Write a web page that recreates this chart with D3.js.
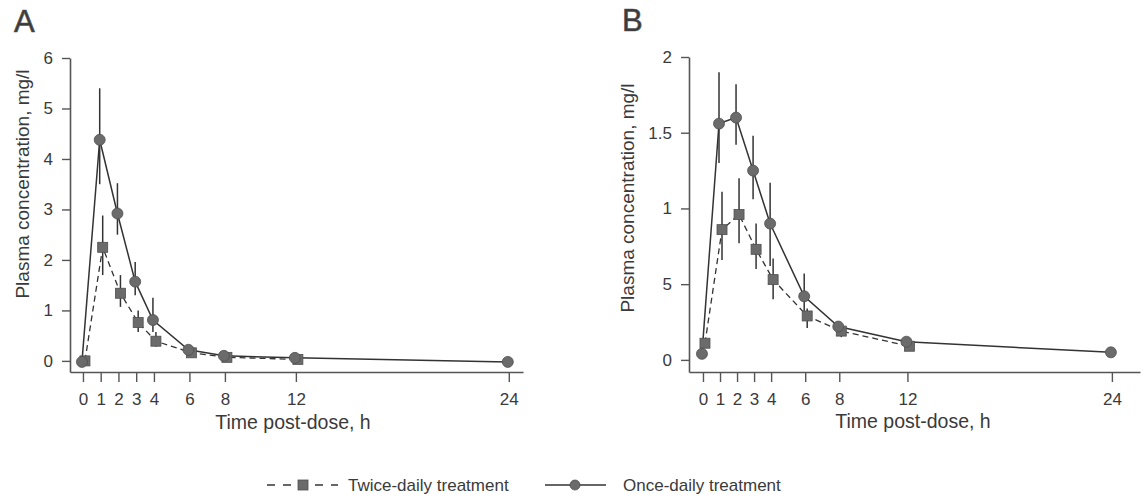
<!DOCTYPE html>
<html>
<head>
<meta charset="utf-8">
<script src="https://cdn.jsdelivr.net/npm/d3@7"></script>
<style>
  body { margin: 0; background: #fff; }
  svg text { font-family: "Liberation Sans", Arial, sans-serif; fill: #3a3a3a; }
</style>
</head>
<body>
<svg id="chart" width="1144" height="499"></svg>
<script>
// time points (h)
const onceTimes = [0, 1, 2, 3, 4, 6, 8, 12, 24];
const twiceTimes = [0, 1, 2, 3, 4, 6, 8, 12];

// panel A values, mg/l
const onceA = [-0.02, 4.38, 2.92, 1.57, 0.81, 0.22, 0.1, 0.06, -0.02];
const onceALo = [null, 3.5, 2.5, 1.3, 0.57, null, null, null, null];
const onceAHi = [null, 5.4, 3.52, 1.96, 1.25, null, null, null, null];
const twiceA = [0, 2.25, 1.34, 0.76, 0.39, 0.16, 0.07, 0.03];
const twiceALo = [null, 1.7, 1.07, 0.57, 0.28, null, null, null];
const twiceAHi = [null, 2.88, 1.7, 1.0, 0.57, null, null, null];

// panel B values
const onceB = [0.04, 1.56, 1.6, 1.25, 0.9, 0.42, 0.22, 0.12, 0.05];
const onceBLo = [null, 1.3, 1.42, 1.06, 0.62, 0.28, null, null, null];
const onceBHi = [null, 1.9, 1.82, 1.48, 1.17, 0.57, 0.31, null, null];
const twiceB = [0.11, 0.86, 0.96, 0.73, 0.53, 0.29, 0.19, 0.09];
const twiceBLo = [null, 0.66, 0.77, 0.6, 0.4, 0.21, 0.15, null];
const twiceBHi = [null, 1.11, 1.2, 0.9, 0.67, 0.34, 0.23, null];

// axis ticks
const xTicks = [0, 1, 2, 3, 4, 6, 8, 12, 24];
const yTicksA = [0, 1, 2, 3, 4, 5, 6];
const yTicksB = [0, 0.5, 1, 1.5, 2];
const yLabelsB = ['0', '5', '1', '1.5', '2'];

const svg = d3.select('#chart');
const ink = '#333';
const markFill = '#6b6b6b';
const markStroke = '#4f4f4f';

function series(times, vals, lo, hi) {
  return times.map((t, i) => ({ t: t, v: vals[i], lo: lo[i], hi: hi[i] }));
}

function drawPanel(cfg) {
  const g = svg.append('g');
  const x = d3.scaleLinear().domain(cfg.xDomain).range(cfg.xRange);
  const y = d3.scaleLinear().domain(cfg.yDomain).range(cfg.yRange);

  // axes
  const yAxis = d3.axisLeft(y)
    .tickValues(cfg.yTicks)
    .tickFormat((d, i) => cfg.yLabels[i])
    .tickSize(8).tickSizeOuter(0).tickPadding(9);
  const ya = g.append('g')
    .attr('transform', `translate(${cfg.xRange[0]},0)`)
    .call(yAxis);

  const xAxis = d3.axisBottom(x)
    .tickValues(xTicks)
    .tickSize(10).tickSizeOuter(0).tickPadding(11);
  const xa = g.append('g')
    .attr('transform', `translate(0,${cfg.yRange[0]})`)
    .call(xAxis);

  [ya, xa].forEach(a => {
    a.select('.domain').attr('stroke', '#555').attr('stroke-width', 1.6);
    a.selectAll('.tick line').attr('stroke', '#555').attr('stroke-width', 1.4);
    a.selectAll('.tick text').style('font-size', '17px').attr('fill', '#3a3a3a');
  });

  const once = series(onceTimes, cfg.once, cfg.onceLo, cfg.onceHi);
  const twice = series(twiceTimes, cfg.twice, cfg.twiceLo, cfg.twiceHi);
  const dxOnce = -1, dxTwice = 2;

  const line = (dx) => d3.line().x(d => x(d.t) + dx).y(d => y(d.v));

  g.append('path').datum(twice)
    .attr('d', line(dxTwice))
    .attr('fill', 'none').attr('stroke', ink)
    .attr('stroke-width', 1.3).attr('stroke-dasharray', '6,4');

  g.append('path').datum(once)
    .attr('d', line(dxOnce))
    .attr('fill', 'none').attr('stroke', ink)
    .attr('stroke-width', 1.5);

  // error bars
  g.selectAll('.errTwice').data(twice.filter(d => d.lo !== null))
    .join('line').attr('class', 'errTwice')
    .attr('x1', d => x(d.t) + dxTwice).attr('x2', d => x(d.t) + dxTwice)
    .attr('y1', d => y(d.lo)).attr('y2', d => y(d.hi))
    .attr('stroke', ink).attr('stroke-width', 1.5);

  g.selectAll('.errOnce').data(once.filter(d => d.lo !== null))
    .join('line').attr('class', 'errOnce')
    .attr('x1', d => x(d.t) + dxOnce).attr('x2', d => x(d.t) + dxOnce)
    .attr('y1', d => y(d.lo)).attr('y2', d => y(d.hi))
    .attr('stroke', ink).attr('stroke-width', 1.5);

  // markers
  g.selectAll('.sq').data(twice)
    .join('rect').attr('class', 'sq')
    .attr('x', d => x(d.t) + dxTwice - 5).attr('y', d => y(d.v) - 5)
    .attr('width', 10).attr('height', 10)
    .attr('fill', markFill).attr('stroke', markStroke).attr('stroke-width', 0.8);

  g.selectAll('.dot').data(once)
    .join('circle').attr('class', 'dot')
    .attr('cx', d => x(d.t) + dxOnce).attr('cy', d => y(d.v))
    .attr('r', 5.5)
    .attr('fill', markFill).attr('stroke', markStroke).attr('stroke-width', 0.8);

  // titles
  g.append('text')
    .attr('transform', `translate(${cfg.yTitle[0]},${cfg.yTitle[1]}) rotate(-90)`)
    .attr('text-anchor', 'middle')
    .style('font-size', '19px')
    .text('Plasma concentration, mg/l');

  g.append('text')
    .attr('x', cfg.xTitle[0]).attr('y', cfg.xTitle[1])
    .attr('text-anchor', 'middle')
    .style('font-size', '19.5px')
    .text('Time post-dose, h');

  g.append('text')
    .attr('x', cfg.letter[0]).attr('y', cfg.letter[1])
    .style('font-size', '31px').attr('fill', '#555')
    .attr('stroke', '#555').attr('stroke-width', 0.7)
    .text(cfg.name);
}

drawPanel({
  name: 'A', letter: [14, 32],
  xDomain: [-0.73, 24.8], xRange: [70, 523],
  yDomain: [-0.22, 6], yRange: [372, 58],
  yTicks: yTicksA, yLabels: yTicksA.map(String),
  once: onceA, onceLo: onceALo, onceHi: onceAHi,
  twice: twiceA, twiceLo: twiceALo, twiceHi: twiceAHi,
  yTitle: [29, 184], xTitle: [293, 429]
});

drawPanel({
  name: 'B', letter: [622, 31],
  xDomain: [-0.82, 25.65], xRange: [689, 1140],
  yDomain: [-0.08, 2], yRange: [372, 57],
  yTicks: yTicksB, yLabels: yLabelsB,
  once: onceB, onceLo: onceBLo, onceHi: onceBHi,
  twice: twiceB, twiceLo: twiceBLo, twiceHi: twiceBHi,
  yTitle: [634, 198], xTitle: [913, 428]
});

// legend
const leg = svg.append('g');
leg.append('line')
  .attr('x1', 267).attr('x2', 338).attr('y1', 485).attr('y2', 485)
  .attr('stroke', ink).attr('stroke-width', 1.3).attr('stroke-dasharray', '8,8');
leg.append('rect')
  .attr('x', 298).attr('y', 480).attr('width', 10).attr('height', 10)
  .attr('fill', markFill).attr('stroke', markStroke).attr('stroke-width', 0.8);
leg.append('text').attr('x', 348).attr('y', 491)
  .style('font-size', '17px').text('Twice-daily treatment');

leg.append('line')
  .attr('x1', 545).attr('x2', 606).attr('y1', 485).attr('y2', 485)
  .attr('stroke', ink).attr('stroke-width', 1.3);
leg.append('circle')
  .attr('cx', 575).attr('cy', 485).attr('r', 5)
  .attr('fill', markFill).attr('stroke', markStroke).attr('stroke-width', 0.8);
leg.append('text').attr('x', 623).attr('y', 491)
  .style('font-size', '17px').text('Once-daily treatment');
</script>
</body>
</html>
